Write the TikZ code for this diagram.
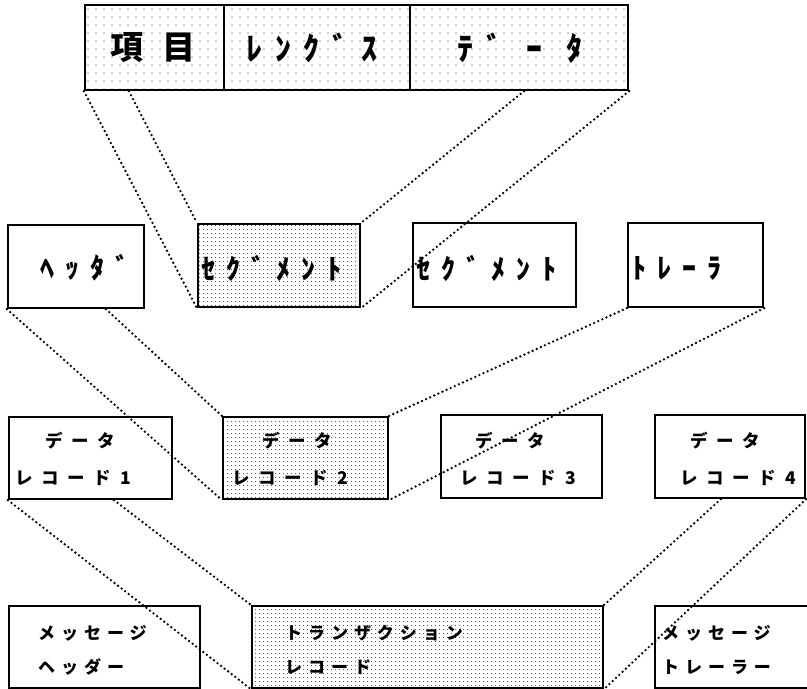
\documentclass[tikz,border=0pt]{standalone}
\usepackage{fontspec}
\usetikzlibrary{patterns.meta}
\newfontfamily\hkfont[LetterSpace=40]{Noto Sans CJK JP}
\newfontfamily\kjfont{Noto Sans CJK JP}
\newfontfamily\rowfont[LetterSpace=50]{Noto Sans CJK JP}
\newfontfamily\rowfontb[LetterSpace=35]{Noto Sans CJK JP}
\tikzset{
  box/.style={draw, line width=2.2pt, inner sep=0pt},
  sparse/.style={pattern={Dots[distance=8pt, radius=0.6pt]}, pattern color=black!80},
  dense/.style={pattern={Dots[distance=4pt, radius=0.6pt]}, pattern color=black!90},
  dotline/.style={line width=2.6pt, dash pattern=on 0pt off 4.5pt, line cap=round},
  toptext/.style={inner sep=0pt, font=\hkfont\bfseries\fontsize{32}{32}\selectfont},
  segtext/.style={inner sep=0pt, anchor=west, font=\hkfont\bfseries\fontsize{28}{28}\selectfont},
  rectext/.style={inner sep=0pt, anchor=west, font=\rowfont\bfseries\fontsize{17.5}{17.5}\selectfont},
  msgtext/.style={inner sep=0pt, anchor=west, font=\rowfontb\bfseries\fontsize{17}{17}\selectfont},
}
\begin{document}
\begin{tikzpicture}[x=1pt, y=-1pt]
\useasboundingbox (0,0) rectangle (807,689);
% top record
\node[box, sparse, minimum width=139pt, minimum height=85pt] (cell1) at (154.5,47.5) {};
\node[box, sparse, minimum width=186pt, minimum height=85pt] (cell2) at (317,47.5) {};
\node[box, sparse, minimum width=218pt, minimum height=85pt] (cell3) at (519,47.5) {};
\node[toptext, font=\kjfont\bfseries\fontsize{33}{33}\selectfont] (t1) at (153,48) {項\hspace{20pt}目};
\node[toptext] (t2) at (312,48) {ﾚﾝｸﾞｽ};
\node[toptext] (t3) at (520,48) {ﾃﾞ\hspace{24pt}ｰ\hspace{24pt}ﾀ};
% segment row
\node[box, minimum width=136pt, minimum height=83pt] (hdr) at (76,266.5) {};
\node[box, dense, minimum width=162pt, minimum height=83pt] (segA) at (279,265.5) {};
\node[box, minimum width=163pt, minimum height=84pt] (segB) at (494.5,265) {};
\node[box, minimum width=135pt, minimum height=84pt] (trl) at (695.5,265) {};
\node[segtext] (thdr) at (40,268) {ﾍｯﾀﾞ};
\node[segtext] (tsegA) at (201,268) {ｾｸﾞﾒﾝﾄ};
\node[segtext] (tsegB) at (416,268) {ｾｸﾞﾒﾝﾄ};
\node[segtext] (ttrl) at (632,268) {ﾄﾚｰﾗ};
% data record row
\node[box, minimum width=163pt, minimum height=82pt] (rec1) at (90.5,458) {};
\node[box, dense, minimum width=165pt, minimum height=82pt] (rec2) at (305.5,458) {};
\node[box, minimum width=161pt, minimum height=83pt] (rec3) at (521.5,456.5) {};
\node[box, minimum width=150pt, minimum height=83pt] (rec4) at (730,456.5) {};
\node[rectext] (r1a) at (45,441) {データ};
\node[rectext] (r1b) at (15,478) {レコード1};
\node[rectext] (r2a) at (262,441) {データ};
\node[rectext] (r2b) at (232,478) {レコード2};
\node[rectext] (r3a) at (475,441) {データ};
\node[rectext] (r3b) at (460,478) {レコード3};
\node[rectext] (r4a) at (690,441) {データ};
\node[rectext] (r4b) at (680,478) {レコード4};
% message row
\node[box, minimum width=191pt, minimum height=82pt] (msgh) at (104.5,647) {};
\node[box, dense, minimum width=351pt, minimum height=82pt] (trn) at (427.5,647) {};
\node[box, minimum width=157pt, minimum height=82pt] (msgt) at (733.5,647) {};
\node[msgtext] (m1a) at (38,633) {メッセージ};
\node[msgtext] (m1b) at (38,667) {ヘッダー};
\node[msgtext] (m2a) at (285,633) {トランザクション};
\node[msgtext] (m2b) at (285,667) {レコード};
\node[msgtext] (m3a) at (662,633) {メッセージ};
\node[msgtext] (m3b) at (662,667) {トレーラー};
% connectors
\draw[dotline] (cell1.south west) -- (segA.south west);
\draw[dotline] ([xshift=45pt]cell1.south west) -- (segA.north west);
\draw[dotline] ([xshift=-105pt]cell3.south east) -- (segA.north east);
\draw[dotline] (cell3.south east) -- (segA.south east);
\draw[dotline] (hdr.south west) -- (rec2.south west);
\draw[dotline] ([xshift=99pt]hdr.south west) -- (rec2.north west);
\draw[dotline] (trl.south west) -- (rec2.north east);
\draw[dotline] (trl.south east) -- (rec2.south east);
\draw[dotline] (rec1.south west) -- (trn.south west);
\draw[dotline] ([xshift=106pt]rec1.south west) -- (trn.north west);
\draw[dotline] ([xshift=67pt]rec4.south west) -- (trn.north east);
\draw[dotline] (rec4.south east) -- (trn.south east);
\end{tikzpicture}
\end{document}
